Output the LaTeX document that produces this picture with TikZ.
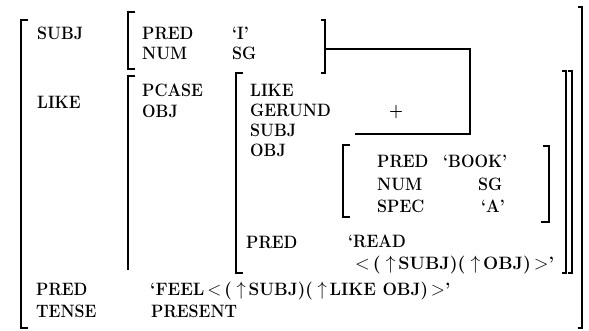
\documentclass[tikz,border=0pt]{standalone}
\newcommand\tallt[1]{\scalebox{1}[1.12]{#1}}
\newcommand\widet[2]{\scalebox{#1}[1.12]{#2}}
\begin{document}
\begin{tikzpicture}[x=1pt,y=-1pt,
  lbl/.style={anchor=base west,inner sep=0pt,font=\fontsize{16}{19}\selectfont\bfseries},
  brk/.style={line width=1.4pt,line cap=butt},
  link/.style={line width=1.2pt}]
\useasboundingbox (0,0) rectangle (589,330);
% outer brackets
\draw[brk] (28,20) -- (21,20) -- (21,328) -- (28,328);
\draw[brk] (578,7) -- (582,7) -- (582,328) -- (578,328);
% SUBJ value
\draw[brk] (135,12) -- (128,12) -- (128,69) -- (135,69);
\draw[brk] (321,20) -- (325,20) -- (325,73) -- (321,73);
% LIKE value
\draw[brk] (135,76) -- (128,76) -- (128,270);
\draw[brk] (562,71) -- (566,71) -- (566,273) -- (562,273);
% LIKE OBJ value
\draw[brk] (243,73) -- (236,73) -- (236,273) -- (243,273);
\draw[brk] (568,71) -- (572,71) -- (572,273) -- (568,273);
% BOOK
\draw[brk] (350,145) -- (343,145) -- (343,217) -- (350,217);
\draw[brk] (543,146) -- (549,146) -- (549,222) -- (541,222);
% text
\node[lbl] (subj) at (37,39) {\tallt{SUBJ}};
\node[lbl] (pred1) at (142,39) {\tallt{PRED}};
\node[lbl] (i) at (232,39) {\tallt{`I'}};
\node[lbl] (num1) at (142,59) {\tallt{NUM}};
\node[lbl] (sg1) at (232,59) {\tallt{SG}};
\node[lbl] (like) at (37,108) {\tallt{LIKE}};
\node[lbl] (pcase) at (142,96) {\tallt{PCASE}};
\node[lbl] (obj1) at (142,117) {\tallt{OBJ}};
\node[lbl] (like2) at (250,96) {\tallt{LIKE}};
\node[lbl] (gerund) at (250,116) {\tallt{GERUND}};
\node[lbl] (plus) at (389,116) {\tallt{+}};
\node[lbl] (subj2) at (250,136) {\tallt{SUBJ}};
\node[lbl] (obj2) at (250,156) {\tallt{OBJ}};
\node[lbl] (pred3) at (377,167) {\tallt{PRED}};
\node[lbl] (book) at (443,167) {\tallt{`BOOK'}};
\node[lbl] (num3) at (377,190) {\tallt{NUM}};
\node[lbl] (sg3) at (478,190) {\tallt{SG}};
\node[lbl] (spec) at (377,212) {\tallt{SPEC}};
\node[lbl] (a) at (481,212) {\tallt{`A'}};
\node[lbl] (pred2) at (246,248) {\tallt{PRED}};
\node[lbl] (read) at (348,247) {\tallt{`READ}};
\node[lbl] (read2) at (355,269) {\widet{1.12}{$<$\,(\;$\uparrow$\,SUBJ)(\;$\uparrow$\,OBJ)\,$>$'}};
\node[lbl] (pred0) at (36,295) {\tallt{PRED}};
\node[lbl] (tense) at (36,317) {\tallt{TENSE}};
\node[lbl] (feel) at (150,295) {\widet{1.07}{`FEEL\,$<$\,(\;$\uparrow$\,SUBJ)(\;$\uparrow$\,LIKE OBJ)\,$>$'}};
\node[lbl] (present) at (151,317) {\tallt{PRESENT}};
% structure-sharing link
\coordinate (s) at (325,49);
\coordinate (c1) at (470,49);
\coordinate (c2) at (470,134);
\coordinate (e) at (355,134);
\draw[link] (s) -- (c1) -- (c2) -- (e);
\end{tikzpicture}
\end{document}
